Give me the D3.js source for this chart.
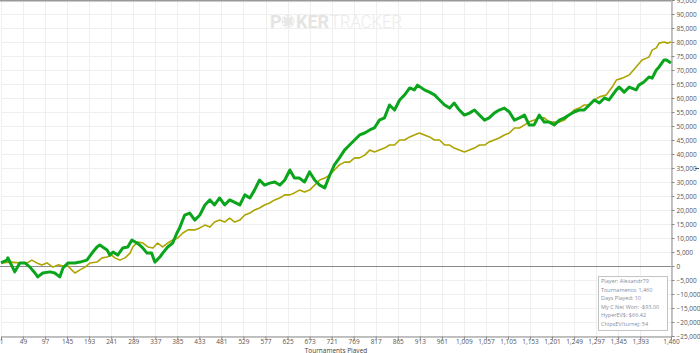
<!DOCTYPE html>
<html>
<head>
<meta charset="utf-8">
<script src="https://cdn.jsdelivr.net/npm/d3@7"></script>
<style>
  body { margin: 0; background: #fff; }
  svg { display: block; font-family: "Open Sans", sans-serif; }
</style>
</head>
<body>
<div id="graph"></div>
<script>
// Tournois joués (axe X) et gains cumulés en $ (ligne verte)
const wonTourn = [
  1, 14, 16, 31, 42, 53, 64, 75, 81, 92,
  108, 118, 129, 136, 147, 162, 173, 188, 201, 210,
  216, 232, 238, 245, 255, 266, 277, 286, 297, 303,
  310, 319, 329, 336, 347, 353, 364, 375, 384, 390,
  401, 412, 423, 434, 445, 456, 466, 477, 488, 499,
  521, 532, 543, 553, 564, 575, 586, 597, 608, 619,
  630, 640, 651, 662, 673, 684, 695, 706, 717, 727,
  738, 749, 760, 771, 782, 793, 804, 814, 825, 836,
  847, 858, 869, 880, 891, 901, 908, 923, 934, 945,
  956, 967, 978, 988, 999, 1010, 1021, 1032, 1043, 1054,
  1064, 1075, 1086, 1097, 1108, 1119, 1130, 1141, 1151, 1162,
  1173, 1184, 1195, 1206, 1217, 1228, 1238, 1249, 1260, 1271,
  1282, 1293, 1304, 1315, 1325, 1341, 1347, 1358, 1369, 1384,
  1390, 1401, 1412, 1419, 1428, 1434, 1445, 1450, 1460
]
const wonValues = [
  1100, 2100, 2900, -2100, 1100, 1100, -400, -2500, -3900, -2500,
  -2100, -2500, -3900, -700, 1100, 1100, 1400, 2100, 5000, 6800,
  7500, 5700, 3900, 5000, 3900, 6400, 6800, 9300, 8200, 7500,
  6400, 4600, 4600, 1400, 3200, 4600, 6800, 8200, 11800, 13600,
  18200, 18900, 16400, 18200, 21800, 23600, 21800, 24300, 21800, 23600,
  21800, 25400, 24300, 27100, 30700, 28900, 29600, 30000, 28900, 30700,
  34300, 31400, 31400, 30000, 33600, 30700, 28900, 27900, 32500, 36100,
  38600, 41400, 43200, 45000, 46800, 47500, 48600, 49300, 52100, 52900,
  57500, 55700, 59300, 61100, 63600, 62900, 64600, 62900, 62100, 61100,
  59300, 57500, 56400, 58200, 55700, 53900, 54600, 55700, 53900, 52100,
  52900, 54600, 55700, 56400, 55000, 52100, 52900, 53900, 50400, 50400,
  53900, 51400, 51400, 50400, 52100, 52900, 53900, 55000, 55700, 55700,
  57500, 59300, 58200, 60000, 59300, 62900, 63900, 62100, 63900, 62900,
  64600, 65700, 67500, 67100, 70000, 71100, 73600, 73600, 72500
]

// Gains attendus (EV) - ligne olive
const evTourn = [
  1, 21, 42, 58, 68, 79, 90, 101, 114, 125,
  136, 145, 155, 162, 173, 184, 195, 210, 221, 232,
  242, 249, 260, 271, 282, 288, 299, 310, 321, 332,
  342, 353, 364, 375, 386, 397, 408, 423, 434, 445,
  456, 466, 477, 488, 499, 510, 521, 532, 543, 553,
  564, 575, 586, 597, 608, 619, 630, 640, 651, 662,
  673, 684, 695, 706, 717, 727, 738, 749, 760, 771,
  782, 793, 804, 814, 825, 836, 847, 858, 869, 880,
  891, 901, 912, 923, 934, 945, 956, 967, 978, 988,
  999, 1010, 1021, 1032, 1043, 1054, 1064, 1075, 1086, 1097,
  1108, 1119, 1130, 1141, 1151, 1162, 1173, 1184, 1195, 1206,
  1217, 1228, 1238, 1249, 1260, 1271, 1282, 1293, 1304, 1319,
  1332, 1341, 1354, 1369, 1384, 1397, 1412, 1419, 1428, 1434,
  1445, 1452, 1460
]
const evValues = [
  1100, 1400, 1100, 1100, 2100, 1100, 400, 1100, -400, 400,
  0, 400, -1400, -2500, -1400, -400, 1100, 1400, 2900, 3200,
  3900, 2900, 2100, 2900, 4600, 6800, 8600, 8200, 6800, 6400,
  8200, 6800, 8200, 9300, 10000, 11800, 12900, 12900, 13600, 14600,
  13900, 15700, 16400, 15700, 17100, 15700, 16400, 18200, 18900, 20000,
  20700, 21800, 22500, 23600, 24300, 25400, 25400, 26100, 27100, 26400,
  27100, 28900, 30700, 31400, 32500, 34300, 36100, 37100, 37100, 38600,
  38600, 39600, 41400, 40700, 41400, 42100, 43200, 43200, 45000, 45000,
  46100, 46800, 47500, 46800, 46100, 45000, 45000, 43200, 43200, 42100,
  41400, 40700, 41400, 42100, 43200, 43200, 44300, 45000, 45700, 46800,
  47500, 49300, 49300, 50400, 51400, 52100, 52900, 52900, 51400, 51400,
  51400, 52100, 53900, 55700, 56400, 57500, 57500, 59300, 60400, 61100,
  63900, 66400, 67100, 68200, 71100, 73600, 74600, 77100, 77900, 79600,
  80000, 79600, 80000
]

// Graduations
const xTicks = [1, 49, 97, 145, 193, 241, 289, 337, 385, 433, 481, 529, 577, 625, 673,
  721, 769, 817, 865, 913, 961, 1009, 1057, 1105, 1153, 1201, 1249, 1297, 1345, 1393, 1460]
const yTicks = [-25000, -20000, -15000, -10000, -5000, 0, 5000, 10000, 15000, 20000, 25000,
  30000, 35000, 40000, 45000, 50000, 55000, 60000, 65000, 70000, 75000, 80000, 85000, 90000, 95000]

// Infos de la légende
const infoLines = [
  "Player: Alexandr79",
  "Tournaments: 1,460",
  "Days Played: 10",
  "My C Net Won: -$93.00",
  "HyperEV$: $66.42",
  "ChipsEV/turnej: 54"
]

/* ------------------------------------------------------------------------------
    SVG
------------------------------------------------------------------------------ */
const W = 700, H = 353
const plot = { left: 1, right: 671, top: 0, bottom: 336 }

const svg = d3.select("#graph")
  .append("svg")
  .attr("width", W)
  .attr("height", H)

const x = d3.scaleLinear()
  .domain([1, 1460])
  .range([plot.left, plot.right])

const y = d3.scaleLinear()
  .domain([-25000, 95000])
  .range([plot.bottom, plot.top])

/* ------------------------------------------------------------------------------
    GRILLE
------------------------------------------------------------------------------ */
svg.append("g")
  .selectAll("line")
  .data(xTicks)
  .join("line")
  .attr("x1", d => Math.round(x(d)) + 0.5)
  .attr("x2", d => Math.round(x(d)) + 0.5)
  .attr("y1", plot.top)
  .attr("y2", plot.bottom)
  .attr("stroke", "#efefef")

svg.append("g")
  .selectAll("line")
  .data(yTicks)
  .join("line")
  .attr("x1", plot.left)
  .attr("x2", plot.right)
  .attr("y1", d => Math.round(y(d)) + 0.5)
  .attr("y2", d => Math.round(y(d)) + 0.5)
  .attr("stroke", "#efefef")

/* ------------------------------------------------------------------------------
    FILIGRANE
------------------------------------------------------------------------------ */
const wm = svg.append("g").attr("fill", "#e4e4e4")
wm.append("text")
  .attr("x", 270).attr("y", 28)
  .attr("font-size", 18).attr("font-weight", 700)
  .attr("font-family", "Roboto")
  .text("P")
wm.append("circle")
  .attr("cx", 288).attr("cy", 21.5).attr("r", 6.5)
  .attr("fill", "#e8e8e8")
wm.append("circle")
  .attr("cx", 288).attr("cy", 21.5).attr("r", 5)
  .attr("fill", "none").attr("stroke", "#fff").attr("stroke-width", 1.2)
  .attr("stroke-dasharray", "2 2")
wm.append("text")
  .attr("x", 296).attr("y", 28)
  .attr("font-size", 18).attr("font-weight", 700)
  .attr("font-family", "Roboto")
  .attr("textLength", 33).attr("lengthAdjust", "spacingAndGlyphs")
  .text("KER")
wm.append("text")
  .attr("x", 330).attr("y", 28)
  .attr("font-size", 18).attr("font-weight", 300)
  .attr("font-family", "Roboto")
  .attr("fill", "#ebebeb")
  .attr("textLength", 72).attr("lengthAdjust", "spacingAndGlyphs")
  .text("TRACKER")

/* ------------------------------------------------------------------------------
    AXES
------------------------------------------------------------------------------ */
// Ligne du zéro
svg.append("line")
  .attr("x1", plot.left - 1).attr("x2", plot.right)
  .attr("y1", Math.round(y(0)) + 0.5).attr("y2", Math.round(y(0)) + 0.5)
  .attr("stroke", "#8a8a8a")

// Bord du haut
svg.append("line")
  .attr("x1", 0).attr("x2", plot.right)
  .attr("y1", 0.5).attr("y2", 0.5)
  .attr("stroke", "#999").attr("stroke-width", 2)

// Axe X
svg.append("g")
  .attr("transform", "translate(0," + (plot.bottom + 0.5) + ")")
  .call(d3.axisBottom(x).tickValues(xTicks).tickSize(3).tickPadding(0).tickFormat(d3.format(",")))

// Axe Y (à droite)
svg.append("g")
  .attr("transform", "translate(" + (plot.right + 0.5) + ",0)")
  .call(d3.axisRight(y).tickValues(yTicks).tickSize(3).tickPadding(2).tickFormat(d3.format(",")))

svg.selectAll(".domain").attr("stroke", "#8a8a8a")
svg.selectAll(".tick line").attr("stroke", "#8a8a8a")
svg.selectAll(".tick text")
  .attr("fill", "#555")
  .attr("font-size", 6.5)
  .attr("font-family", "Open Sans")

// Titre axe X
svg.append("text")
  .attr("x", 336)
  .attr("y", 352.5)
  .attr("text-anchor", "middle")
  .attr("font-size", 6.5)
  .attr("fill", "#444")
  .text("Tournaments Played")

// petit repère à droite
svg.append("line")
  .attr("x1", 695).attr("x2", 699)
  .attr("y1", y(35000) + 0.5).attr("y2", y(35000) + 0.5)
  .attr("stroke", "#555")

/* ------------------------------------------------------------------------------
    LIGNES
------------------------------------------------------------------------------ */
const line = d3.line()
  .x(d => x(d[0]))
  .y(d => y(d[1]))

svg.append("path")
  .datum(evTourn.map((t, i) => [t, evValues[i]]))
  .attr("d", line)
  .attr("fill", "none")
  .attr("stroke", "#aca400")
  .attr("stroke-width", 1.6)
  .attr("stroke-linejoin", "round")

svg.append("path")
  .datum(wonTourn.map((t, i) => [t, wonValues[i]]))
  .attr("d", line)
  .attr("fill", "none")
  .attr("stroke", "#0aa51c")
  .attr("stroke-width", 3)
  .attr("stroke-linejoin", "round")

/* ------------------------------------------------------------------------------
    LEGENDE
------------------------------------------------------------------------------ */
const legend = svg.append("g")
legend.append("rect")
  .attr("x", 598.5).attr("y", 276.5)
  .attr("width", 69).attr("height", 54)
  .attr("fill", "#fff")
  .attr("stroke", "#c4c4c4")

legend.selectAll("text")
  .data(infoLines)
  .join("text")
  .attr("x", 601)
  .attr("y", (d, i) => 283 + i * 8.5)
  .attr("font-size", 5.5)
  .attr("fill", "#8b8d99")
  .text(d => d)
</script>
</body>
</html>
